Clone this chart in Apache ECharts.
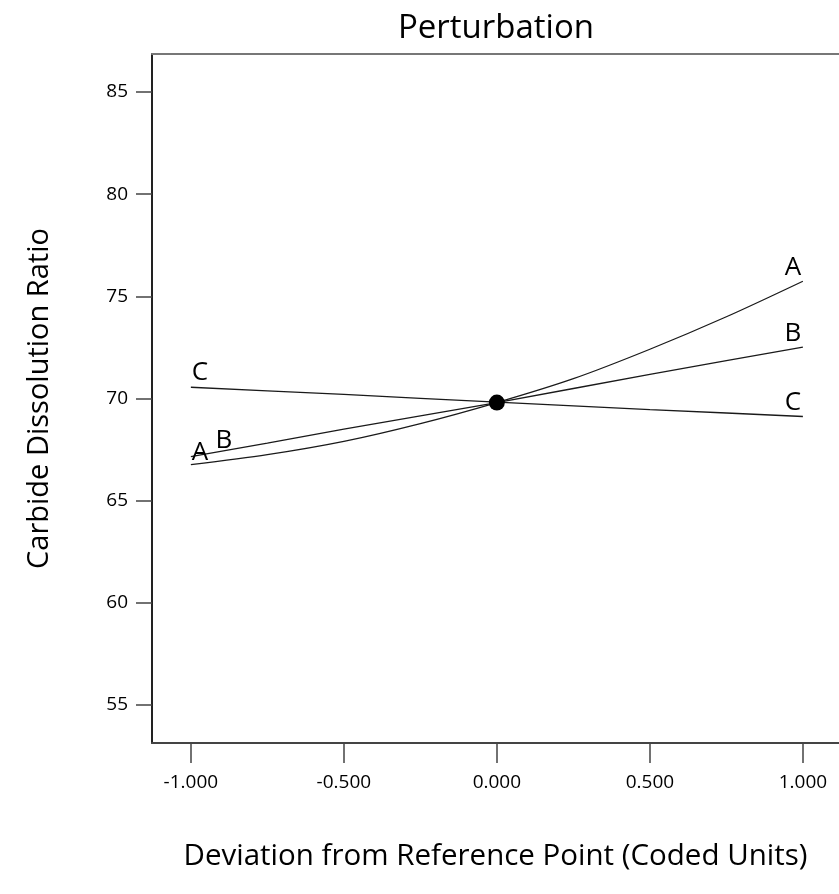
<!DOCTYPE html>
<html>
<head>
<meta charset="utf-8">
<style>
  html, body { margin: 0; padding: 0; background: #fff; }
  #chart { width: 839px; height: 894px; }
</style>
<script src="https://cdn.jsdelivr.net/npm/echarts@6/dist/echarts.min.js"></script>
</head>
<body>
<div id="chart"></div>
<script>
// Coded deviation from the reference point
const deviations = [-1, -0.75, -0.5, -0.25, 0, 0.25, 0.5, 0.75, 1];
// Response traces for each factor
const factorA = [66.76, 67.25, 67.9, 68.77, 69.8, 70.97, 72.41, 74.0, 75.74];
const factorB = [67.16, 67.82, 68.5, 69.15, 69.8, 70.49, 71.18, 71.85, 72.51];
const factorC = [70.55, 70.37, 70.2, 70.01, 69.82, 69.64, 69.46, 69.29, 69.12];
const factorNames = ['A', 'B', 'C'];
// Reference point
const referencePoint = [0, 69.8];
// Tick labels
const xTicks = [-1, -0.5, 0, 0.5, 1];
const yTicks = [55, 60, 65, 70, 75, 80, 85];

const FONT = 'Open Sans';

// Label placement at each end of a trace: [left end offset, right end offset]
const labelOffsets = {
  A: [[9, 1], [-10, -1]],
  B: [[33, -3], [-10, -1]],
  C: [[9, -2], [-10, -1]]
};

function traceSeries(name, values) {
  const last = deviations.length - 1;
  const data = deviations.map((x, i) => {
    const item = { value: [x, values[i]] };
    if (i === 0 || i === last) {
      item.label = {
        show: true,
        formatter: name,
        position: 'top',
        distance: 0,
        offset: labelOffsets[name][i === 0 ? 0 : 1]
      };
    }
    return item;
  });
  return {
    type: 'line',
    name: name,
    data: data,
    smooth: name === 'A' ? 0.3 : false,
    symbol: 'circle',
    symbolSize: 0,
    showSymbol: true,
    lineStyle: { color: '#1a1a1a', width: 1.3 },
    itemStyle: { color: '#1a1a1a' },
    label: {
      show: false,
      color: '#000',
      fontFamily: FONT,
      fontSize: 26
    },
    emphasis: { disabled: true },
    silent: true,
    z: 2
  };
}

const chart = echarts.init(document.getElementById('chart'));
chart.setOption({
  animation: false,
  title: {
    text: 'Perturbation',
    left: 491,
    textAlign: 'center',
    top: 7,
    textStyle: { fontFamily: FONT, fontSize: 33, fontWeight: 'normal', color: '#000' }
  },
  grid: { left: 152, right: 0, top: 54, bottom: 151, containLabel: false },
  xAxis: [{
    type: 'value',
    min: -1.127,
    max: 1.118,
    position: 'bottom',
    name: 'Deviation from Reference Point (Coded Units)',
    nameLocation: 'middle',
    nameGap: 99,
    nameTextStyle: { fontFamily: FONT, fontSize: 29.5, color: '#000' },
    axisLine: { onZero: false, lineStyle: { color: '#444', width: 2 } },
    axisTick: { customValues: xTicks, length: 20, lineStyle: { color: '#444', width: 1.5 } },
    axisLabel: {
      customValues: xTicks,
      margin: 30,
      fontFamily: FONT,
      fontSize: 19,
      color: '#000',
      formatter: v => v.toFixed(3)
    },
    splitLine: { show: false }
  }, {
    type: 'value',
    min: -1.127,
    max: 1.118,
    position: 'top',
    axisLine: { show: true, onZero: false, lineStyle: { color: '#777', width: 2 } },
    axisTick: { show: false },
    axisLabel: { show: false },
    splitLine: { show: false }
  }],
  yAxis: {
    type: 'value',
    min: 53.14,
    max: 86.86,
    name: 'Carbide Dissolution Ratio',
    nameLocation: 'middle',
    nameGap: 98,
    nameTextStyle: { fontFamily: FONT, fontSize: 29, color: '#000' },
    axisLine: { show: true, onZero: false, lineStyle: { color: '#222', width: 2 } },
    axisTick: { customValues: yTicks, length: 16, lineStyle: { color: '#444', width: 1.5 } },
    axisLabel: {
      customValues: yTicks,
      margin: 24,
      fontFamily: FONT,
      fontSize: 19,
      color: '#000'
    },
    splitLine: { show: false }
  },
  series: [
    traceSeries(factorNames[0], factorA),
    traceSeries(factorNames[1], factorB),
    traceSeries(factorNames[2], factorC),
    {
      type: 'scatter',
      data: [referencePoint],
      symbol: 'circle',
      symbolSize: 16,
      itemStyle: { color: '#000', opacity: 1 },
      silent: true,
      z: 3
    }
  ]
});
</script>
</body>
</html>
